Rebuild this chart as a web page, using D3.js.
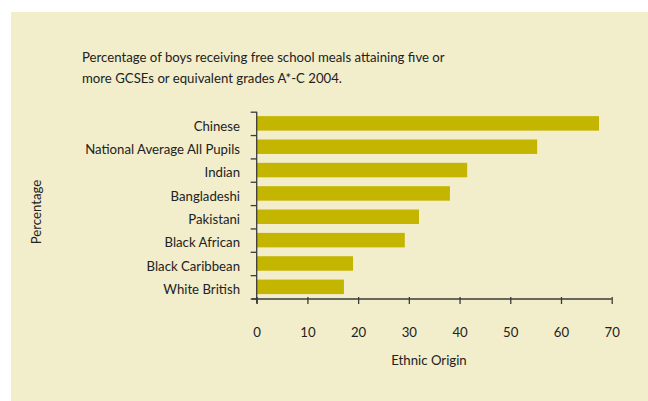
<!DOCTYPE html>
<html>
<head>
<meta charset="utf-8">
<script src="https://cdn.jsdelivr.net/npm/d3@7"></script>
<style>
  html, body { margin: 0; padding: 0; background: #ffffff; }
  svg { display: block; }
  text { font-family: Lato, "Open Sans", sans-serif; fill: #222; }
</style>
</head>
<body>
<svg id="chart" width="648" height="401"></svg>
<script>
const categories = ["Chinese", "National Average All Pupils", "Indian", "Bangladeshi", "Pakistani", "Black African", "Black Caribbean", "White British"];
const values = [67.5, 55.3, 41.5, 38.1, 32.0, 29.2, 19.0, 17.2];
const xTicks = [0, 10, 20, 30, 40, 50, 60, 70];
const titleLines = ["Percentage of boys receiving free school meals attaining five or", "more GCSEs or equivalent grades A*-C 2004."];
const xLabel = "Ethnic Origin";
const yLabel = "Percentage";

const svg = d3.select("#chart");
const W = 648, H = 401;
const fs = 13.2;

svg.append("rect").attr("x", 11).attr("y", 12).attr("width", W - 11).attr("height", H - 12).attr("fill", "#f2edcb");

const x = d3.scaleLinear().domain([0, 70]).range([256.7, 611.7]);
const y = d3.scaleBand().domain(categories).range([111.7, 298.5]).paddingInner(0.38).paddingOuter(0.19);
const yEdge = d3.scaleLinear().domain([0, categories.length]).range([111.7, 298.5]);

// title
svg.append("g").selectAll("text").data(titleLines).join("text")
  .attr("x", 82).attr("y", (d, i) => 62 + i * 21)
  .attr("font-size", fs).text(d => d);

// bars
svg.append("g").selectAll("rect").data(categories).join("rect")
  .attr("x", x(0)).attr("y", d => y(d))
  .attr("width", (d, i) => x(values[i]) - x(0))
  .attr("height", y.bandwidth())
  .attr("fill", "#c4b500");

const axisColor = "#3a3a3a";

// y axis (ticks at band boundaries)
const gy = svg.append("g").attr("transform", `translate(${x(0)},0)`)
  .call(d3.axisLeft(yEdge).tickValues(d3.range(0, categories.length + 1)).tickSize(6).tickSizeOuter(0).tickFormat(""));
gy.select(".domain").remove();
gy.selectAll("line").attr("stroke", axisColor).attr("stroke-width", 1.3).attr("x2", -6);
gy.append("line").attr("x1", 0).attr("x2", 0).attr("y1", yEdge(0)).attr("y2", 303.5).attr("stroke", axisColor).attr("stroke-width", 1.3);

// category labels
svg.append("g").selectAll("text").data(categories).join("text")
  .attr("x", 240).attr("y", d => y(d) + y.bandwidth() / 2 + 2.5)
  .attr("dy", "0.36em").attr("text-anchor", "end").attr("font-size", fs).text(d => d);

// x axis
const gx = svg.append("g").attr("transform", "translate(0,299)")
  .call(d3.axisBottom(x).tickValues(xTicks).tickSize(5).tickSizeOuter(0).tickPadding(0));
gx.select(".domain").remove();
gx.selectAll(".tick line").attr("y1", -2).attr("y2", 5).attr("stroke", axisColor).attr("stroke-width", 1.3);
gx.selectAll(".tick text").attr("y", 37.5).attr("dy", 0).attr("font-size", fs).attr("fill", "#222")
  .style("font-family", "Lato, 'Open Sans', sans-serif");
gx.append("line").attr("x1", 251.7).attr("x2", x(70)).attr("y1", 0).attr("y2", 0).attr("stroke", axisColor).attr("stroke-width", 1.3);

// axis titles
svg.append("text").attr("x", 429).attr("y", 365).attr("text-anchor", "middle").attr("font-size", fs).text(xLabel);
svg.append("text").attr("transform", "translate(40.5,212) rotate(-90)").attr("text-anchor", "middle").attr("font-size", fs).text(yLabel);
</script>
</body>
</html>
